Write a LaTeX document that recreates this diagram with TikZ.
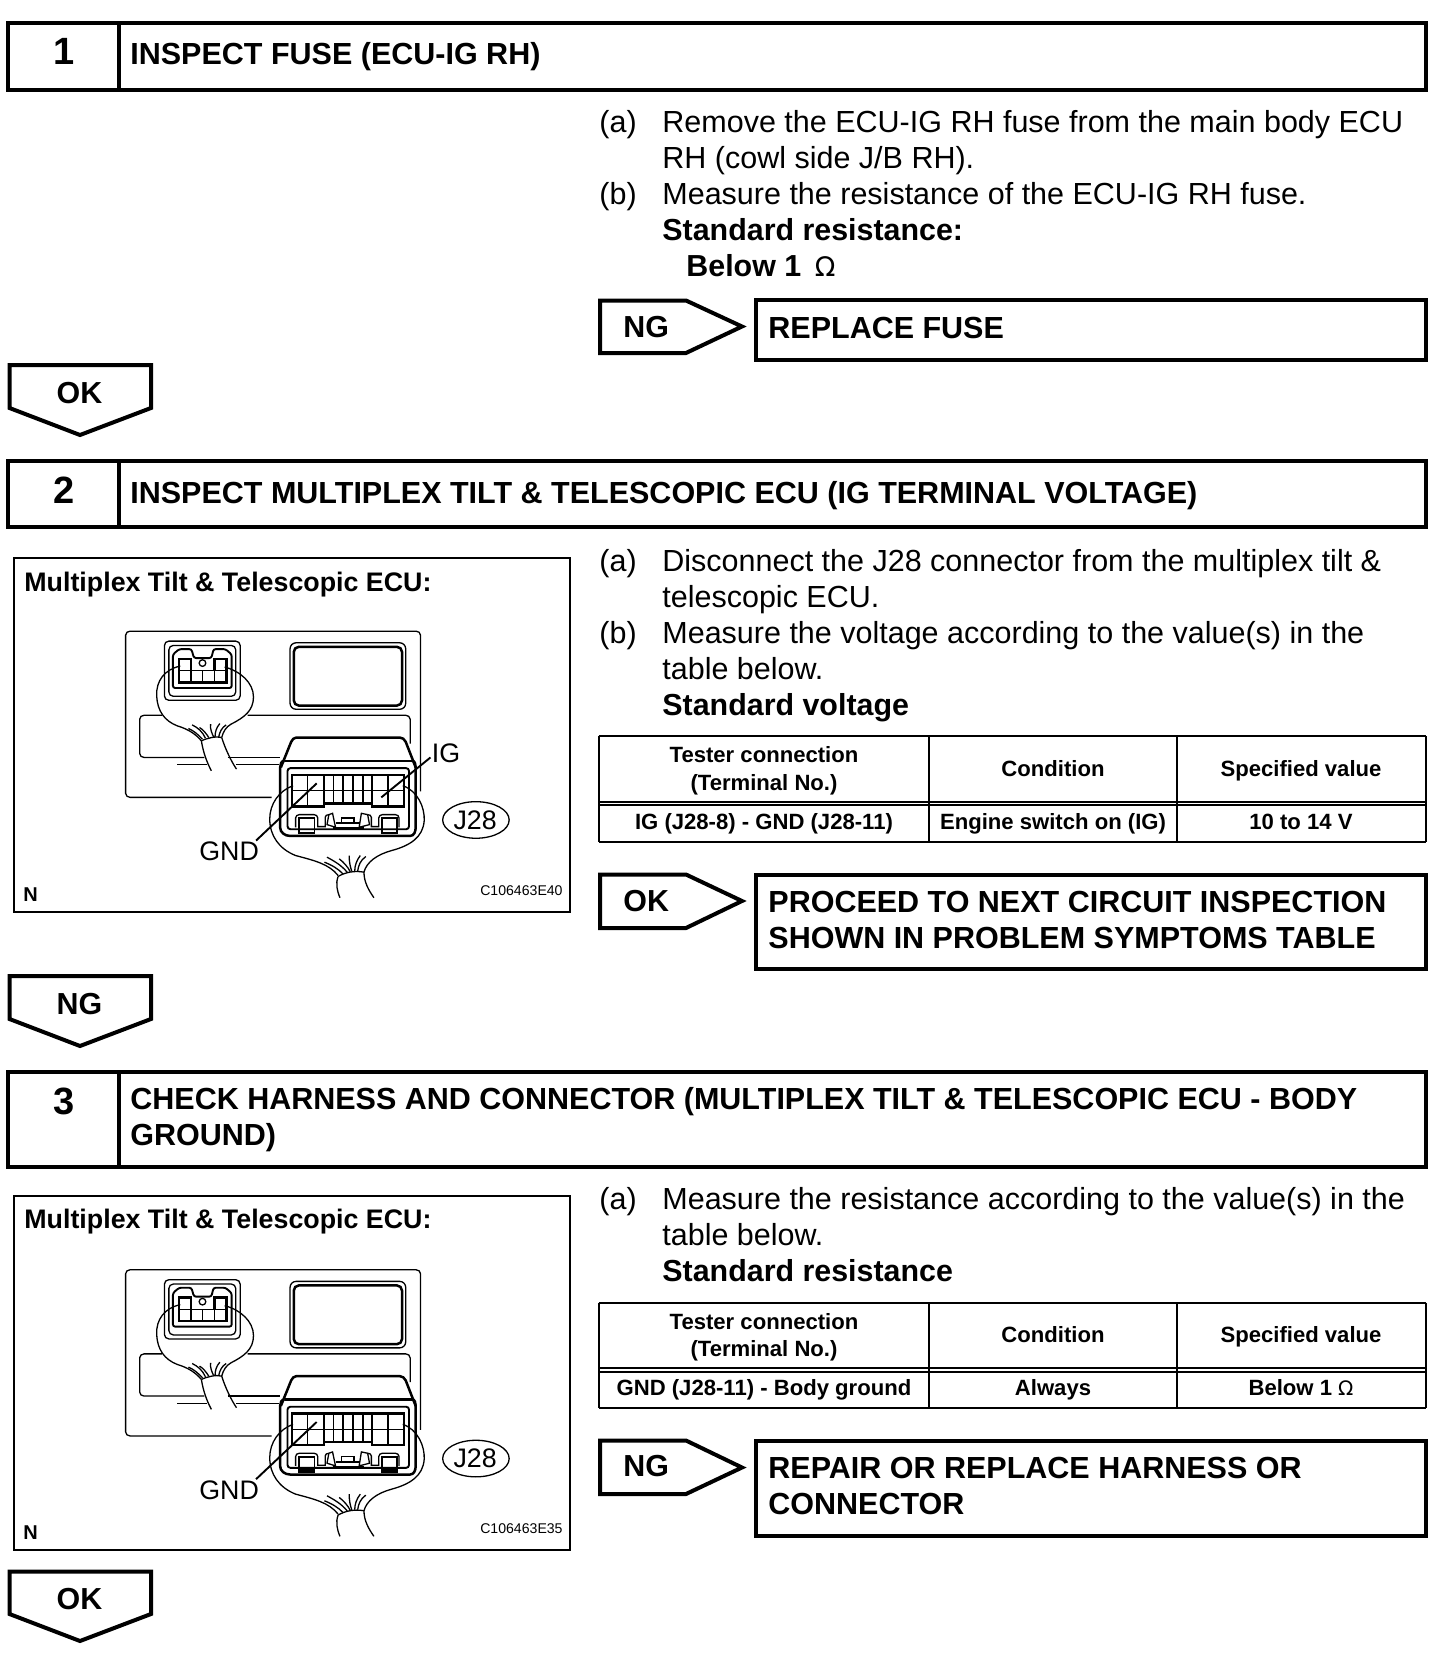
\documentclass[tikz,border=0pt]{standalone}
\usepackage{fontspec}
\setmainfont{Liberation Sans}
\newcommand{\ecupanel}[3]{% #1 prefix, #2 y shift, #3 extra
\begin{scope}[shift={(0,#2)},x=0.18475pt,y=-0.1662pt]
 % panel
 \draw[thinl] (735,770) -- (352,770) to[out=180,in=-90] (340,758) -- (340,282) to[out=90,in=180] (352,270) -- (1126,270) to[out=0,in=90] (1138,282) -- (1138,752);
 \draw[thinl] (438,523) -- (390,523) to[out=180,in=90] (378,535) -- (378,638) to[out=-90,in=180] (390,650) -- (553,650);
 \draw[thinl] (617,650) -- (758,650);
 \draw[thinl] (670,523) -- (1098,523) to[out=0,in=90] (1110,535) -- (1110,608);
 \draw[thinl] (480,672) -- (560,672) (640,672) -- (756,672);
 % window
 \draw[thinl,rounded corners=3pt] (785,305) rectangle (1098,505);
 \draw[thickl,rounded corners=2.6pt] (795,317) rectangle (1088,494);
 % left connector
 \draw[thinl,rounded corners=2.2pt] (445,300) rectangle (650,478);
 \draw[thinl,rounded corners=2.2pt] (457,313) rectangle (638,466);
 \draw[midl,rounded corners=1.1pt] (468,340) -- (468,441) -- (627,441) -- (627,340) -- (610,324) -- (578,324) -- (572,351) -- (525,351) -- (518,324) -- (485,324) -- cycle;
 \draw[thickl] (517,389) -- (517,354) -- (485,354) -- (485,424) -- (613,424) -- (613,354) -- (580,354) -- (580,389);
 \draw[thinl] (485,389) -- (613,389) (517,389) -- (517,424) (548,389) -- (548,424) (580,389) -- (580,424);
 \draw[thinl] (548,366) circle[x radius=9,y radius=10];
 % left harness
 \draw[thinl] (488,375) .. controls (445,385) and (422,420) .. (424,465) .. controls (426,510) and (445,540) .. (480,555) .. controls (510,565) and (530,580) .. (545,600);
 \draw[thinl] (608,378) .. controls (650,390) and (686,425) .. (686,468) .. controls (686,510) and (660,530) .. (625,550) .. controls (612,558) and (604,572) .. (600,590);
 \draw[thinl] (510,563) .. controls (525,570) and (535,580) .. (548,595);
 \draw[thinl] (520,552) .. controls (535,560) and (548,572) .. (556,592);
 \draw[thinl] (540,560) .. controls (550,566) and (558,578) .. (565,590);
 \draw[thinl] (570,550) .. controls (568,565) and (574,578) .. (578,588);
 \draw[thinl] (595,548) .. controls (585,560) and (582,575) .. (582,588);
 \draw[thinl] (612,552) .. controls (600,560) and (594,575) .. (592,588);
 \draw[thinl] (545,600) .. controls (560,592) and (585,585) .. (600,590);
 \draw[thinl] (545,600) .. controls (550,635) and (560,665) .. (572,690);
 \draw[thinl] (600,590) .. controls (610,625) and (625,660) .. (640,685);
 % big connector
 \draw[thickl] (760,680) -- (788,603) to[out=60,in=180] (802,590) -- (1082,590) to[out=0,in=120] (1098,603) -- (1125,680);
 \draw[thickl] (770,660) -- (1115,660);
 \draw[thickl] (770,660) to[out=180,in=90] (758,680) -- (758,860) to[out=-90,in=180] (785,886) -- (1110,886) to[out=0,in=-90] (1125,860) -- (1125,680) to[out=90,in=0] (1115,660);
 \draw[midl,rounded corners=1.5pt] (778,682) rectangle (1107,866);
 \draw[thickl] (790,703) -- (1093,703) -- (1093,797) -- (1007,797) -- (1007,788) -- (877,788) -- (877,797) -- (790,797) -- cycle;
 \draw[thinl] (790,750) -- (1093,750) (833,703) -- (833,797) (1050,703) -- (1050,797);
 \draw[thickl] (877,703) -- (877,788) (1007,703) -- (1007,788);
 \draw[thinl] (903,703) -- (903,788) (928,703) -- (928,788) (955,703) -- (955,788) (982,703) -- (982,788);
 \draw[thinl] (800,860) -- (800,832) to[out=90,in=180] (810,822) -- (850,822) to[out=0,in=90] (860,832) -- (860,858) -- (880,858) -- (880,830) to[out=90,in=180] (890,822);
 \draw[thinl] (1080,860) -- (1080,832) to[out=90,in=0] (1070,822) -- (1035,822) to[out=180,in=90] (1025,832) -- (1025,858) -- (1005,858) -- (1005,830) to[out=90,in=0] (995,822);
 \draw[midl] (808,878) -- (808,832) -- (851,832) -- (851,878) -- cycle;
 \draw[midl] (1033,878) -- (1033,832) -- (1075,832) -- (1075,878) -- cycle;
 \draw[thinl] (890,822) -- (900,818) -- (908,860) -- (885,852) -- (890,822);
 \draw[thinl] (995,822) -- (978,818) -- (972,860) -- (1000,852) -- (995,822);
 \draw[midl] (908,848) -- (975,848);
 \draw[thinl] (925,848) -- (925,832) -- (958,832) -- (958,848);
 \draw[thinl] (900,862) -- (985,862);
 % big harness
 \draw[thinl] (793,735) .. controls (755,750) and (730,790) .. (730,835) .. controls (730,885) and (755,925) .. (800,945) .. controls (850,960) and (890,970) .. (915,1005);
 \draw[thinl] (1090,735) .. controls (1130,750) and (1150,800) .. (1148,840) .. controls (1145,890) and (1110,915) .. (1060,930) .. controls (1020,942) and (992,965) .. (985,995);
 \draw[thinl] (878,965) .. controls (900,975) and (915,985) .. (928,1000);
 \draw[thinl] (885,950) .. controls (905,962) and (925,975) .. (940,996);
 \draw[thinl] (918,955) .. controls (930,965) and (942,980) .. (948,994);
 \draw[thinl] (945,945) .. controls (945,965) and (948,980) .. (952,992);
 \draw[thinl] (975,945) .. controls (965,960) and (960,975) .. (960,992);
 \draw[thinl] (990,948) .. controls (975,960) and (970,975) .. (968,992);
 \draw[thinl] (915,1008) .. controls (935,995) and (960,990) .. (985,995);
 \draw[thinl] (915,1008) .. controls (908,1030) and (912,1050) .. (920,1072);
 \draw[thinl] (985,995) .. controls (985,1025) and (998,1050) .. (1012,1072);
 % leader lines and labels
 #3
 \node[lbl,anchor=center] (#1gnd) at (620,932) {GND};
 \coordinate (#1gt) at (857,728);
 \draw[lead] (693,900) -- (#1gt);
 \draw[thinl] (1288,838) ellipse[x radius=90,y radius=55];
 \node[lbl,anchor=center] (#1j) at (1286,838) {J28};
\end{scope}
}
\tikzset{
 thinl/.style={line width=0.65pt,black},
 midl/.style={line width=0.95pt,black},
 thickl/.style={line width=1.25pt,black},
 lead/.style={line width=0.95pt,black},
 lbl/.style={inner sep=0pt,font=\fontsize{13.4pt}{16pt}\selectfont},
 framel/.style={line width=2pt,black,line join=miter},
 body/.style={anchor=base west,inner sep=0pt,font=\fontsize{15.25pt}{18pt}\selectfont},
 bbody/.style={anchor=base west,inner sep=0pt,font=\fontsize{15.2pt}{18pt}\selectfont\bfseries},
 headt/.style={anchor=base west,inner sep=0pt,font=\fontsize{15.25pt}{18pt}\selectfont\bfseries},
 numt/.style={anchor=center,inner sep=0pt,font=\fontsize{19pt}{22pt}\selectfont\bfseries},
 tagt/.style={anchor=center,inner sep=0pt,font=\fontsize{15.2pt}{18pt}\selectfont\bfseries},
 rest/.style={anchor=base west,inner sep=0pt,font=\fontsize{15.25pt}{18pt}\selectfont\bfseries},
 cellt/.style={anchor=base,inner sep=0pt,font=\fontsize{11.05pt}{14pt}\selectfont\bfseries},
 ptitle/.style={anchor=base west,inner sep=0pt,font=\fontsize{13.4pt}{15pt}\selectfont\bfseries},
 nmark/.style={anchor=base west,inner sep=0pt,font=\fontsize{10pt}{12pt}\selectfont\bfseries},
 codet/.style={anchor=base east,inner sep=0pt,font=\fontsize{7.05pt}{8pt}\selectfont},
 tline/.style={line width=1pt,black},
}
\begin{document}
\begin{tikzpicture}[x=0.5pt,y=-0.5pt]
\useasboundingbox (0,0) rectangle (1456,1660);
% Section 1
\draw[framel] (8,23) rectangle (1426,90) (118.5,23) -- (118.5,90);
\node[numt] (n1) at (64.5,51) {1};
\node[headt] (h1) at (130,64) {INSPECT FUSE (ECU-IG RH)};
\node[body] (a1) at (599,132.5) {(a)};
\node[body] (a1t) at (662,132.5) {Remove the ECU-IG RH fuse from the main body ECU};
\node[body] (a1u) at (662,168.5) {RH (cowl side J/B RH).};
\node[body] (b1) at (599,204.5) {(b)};
\node[body] (b1t) at (662,204.5) {Measure the resistance of the ECU-IG RH fuse.};
\node[bbody] (s1) at (662,240.5) {Standard resistance:};
\node[bbody] (s1v) at (686,276.5) {Below 1 \,{\mdseries\fontspec{DejaVu Sans}\fontsize{13.5pt}{18pt}\selectfont Ω}};
\draw[framel] (600,300.5) -- (686,300.5) -- (742,326.5) -- (686,353) -- (600,353) -- cycle;
\node[tagt,anchor=base west] (t1) at (623,337) {NG};
\draw[framel] (755.5,300) rectangle (1426,360);
\node[rest] (r1) at (768,338) {REPLACE FUSE};
\draw[framel] (9.5,365) -- (151,365) -- (151,408) -- (80,435) -- (9.5,408) -- cycle;
\node[tagt] (o1) at (79.5,393) {OK};
% Section 2
\draw[framel] (8,461) rectangle (1426,527) (118.5,461) -- (118.5,527);
\node[numt] (n2) at (64.5,490) {2};
\node[headt] (h2) at (130,503) {INSPECT MULTIPLEX TILT \& TELESCOPIC ECU (IG TERMINAL VOLTAGE)};
\draw[line width=1.3pt] (14,558) rectangle (570,912);
\node[ptitle] (p2) at (24,591.5) {Multiplex Tilt \& Telescopic ECU:};
\node[nmark] (m2) at (23,901) {N};
\node[codet] (c2) at (563,895) {C106463E40};
\ecupanel{u}{541.4}{\node[lbl,anchor=center] (uig) at (1207,637) {IG}; \coordinate (uit) at (1032,770); \draw[lead] (1165,650) -- (uit);}
\node[body] (a2) at (599,571) {(a)};
\node[body] (a2t) at (662,571) {Disconnect the J28 connector from the multiplex tilt \&};
\node[body] (a2u) at (662,607) {telescopic ECU.};
\node[body] (b2) at (599,643) {(b)};
\node[body] (b2t) at (662,643) {Measure the voltage according to the value(s) in the};
\node[body] (b2u) at (662,679) {table below.};
\node[bbody] (s2) at (662,715) {Standard voltage};
\draw[tline] (598.5,736) -- (1426,736) (598.5,801.5) -- (1426,801.5) (598.5,805) -- (1426,805) (598.5,842) -- (1426,842) (598.5,736) -- (598.5,842) (929,736) -- (929,842) (1177,736) -- (1177,842) (1426,736) -- (1426,842);
\node[cellt] (c21) at (764,762.5) {Tester connection};
\node[cellt] (c22) at (764,790) {(Terminal No.)};
\node[cellt] (c23) at (1053,776) {Condition};
\node[cellt] (c24) at (1301,776) {Specified value};
\node[cellt] (c25) at (764,829) {IG (J28-8) - GND (J28-11)};
\node[cellt] (c26) at (1053,829) {Engine switch on (IG)};
\node[cellt] (c27) at (1301,829) {10 to 14 V};
\draw[framel] (600,874.5) -- (686,874.5) -- (742,901) -- (686,928) -- (600,928) -- cycle;
\node[tagt,anchor=base west] (t2) at (623,911) {OK};
\draw[framel] (755.5,875) rectangle (1426,969);
\node[rest] (r2) at (768,912) {PROCEED TO NEXT CIRCUIT INSPECTION};
\node[rest] (r2b) at (768,948) {SHOWN IN PROBLEM SYMPTOMS TABLE};
\draw[framel] (9.5,976) -- (151,976) -- (151,1019) -- (80,1046) -- (9.5,1019) -- cycle;
\node[tagt] (o2) at (79.5,1004) {NG};
% Section 3
\draw[framel] (8,1072) rectangle (1426,1167) (118.5,1072) -- (118.5,1167);
\node[numt] (n3) at (64.5,1101) {3};
\node[headt] (h3) at (130,1109) {CHECK HARNESS AND CONNECTOR (MULTIPLEX TILT \& TELESCOPIC ECU - BODY};
\node[headt] (h3b) at (130,1145) {GROUND)};
\draw[line width=1.3pt] (14,1196) rectangle (570,1550);
\node[ptitle] (p3) at (24,1228.5) {Multiplex Tilt \& Telescopic ECU:};
\node[nmark] (m3) at (23,1539) {N};
\node[codet] (c3) at (563,1533) {C106463E35};
\ecupanel{v}{1180}{\fill (808,868) rectangle (851,880) (1033,868) rectangle (1075,880);}
\node[body] (a3) at (599,1209.5) {(a)};
\node[body] (a3t) at (662,1209.5) {Measure the resistance according to the value(s) in the};
\node[body] (a3u) at (662,1245.5) {table below.};
\node[bbody] (s3) at (662,1281.5) {Standard resistance};
\draw[tline] (598.5,1302.5) -- (1426,1302.5) (598.5,1368) -- (1426,1368) (598.5,1371.5) -- (1426,1371.5) (598.5,1408) -- (1426,1408) (598.5,1302.5) -- (598.5,1408) (929,1302.5) -- (929,1408) (1177,1302.5) -- (1177,1408) (1426,1302.5) -- (1426,1408);
\node[cellt] (d21) at (764,1329) {Tester connection};
\node[cellt] (d22) at (764,1356) {(Terminal No.)};
\node[cellt] (d23) at (1053,1342.5) {Condition};
\node[cellt] (d24) at (1301,1342.5) {Specified value};
\node[cellt] (d25) at (764,1395.5) {GND (J28-11) - Body ground};
\node[cellt] (d26) at (1053,1395.5) {Always};
\node[cellt] (d27) at (1301,1395.5) {Below 1 {\mdseries\fontspec{DejaVu Sans}\fontsize{10pt}{12pt}\selectfont Ω}};
\draw[framel] (600,1440.5) -- (686,1440.5) -- (742,1467.5) -- (686,1494) -- (600,1494) -- cycle;
\node[tagt,anchor=base west] (t3) at (623,1476) {NG};
\draw[framel] (755.5,1440.5) rectangle (1426,1536);
\node[rest] (r3) at (768,1478) {REPAIR OR REPLACE HARNESS OR};
\node[rest] (r3b) at (768,1514) {CONNECTOR};
\draw[framel] (9.5,1571.5) -- (151,1571.5) -- (151,1614) -- (80,1641) -- (9.5,1614) -- cycle;
\node[tagt] (o3) at (79.5,1599) {OK};
\end{tikzpicture}
\end{document}
